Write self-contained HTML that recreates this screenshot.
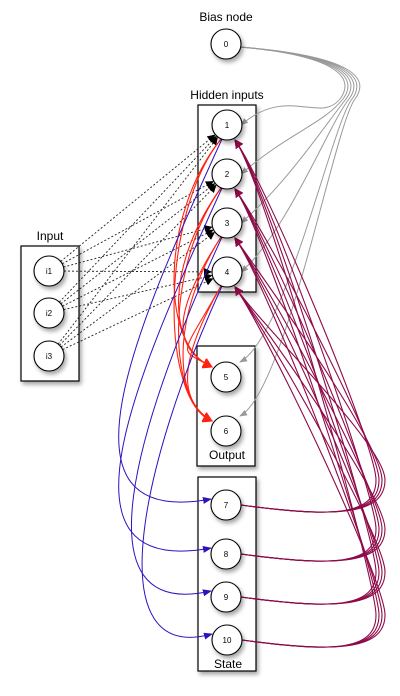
<!DOCTYPE html>
<html><head><meta charset="utf-8"><style>
html,body{margin:0;padding:0;background:#fff}
svg{display:block;font-family:"Liberation Sans",sans-serif}
</style></head><body>
<svg width="400" height="696" viewBox="0 0 400 696" id="g">
<defs>
<filter id="sh" x="-30%" y="-30%" width="160%" height="160%"><feDropShadow dx="2" dy="3" stdDeviation="2" flood-color="#000" flood-opacity="0.35"/></filter>
<marker id="mk" markerWidth="8" markerHeight="8" refX="7" refY="4" orient="auto" markerUnits="userSpaceOnUse"><path d="M0,0 L8,4 L0,8z" fill="#000"/></marker>
<marker id="mg" markerWidth="8" markerHeight="8" refX="7" refY="4" orient="auto" markerUnits="userSpaceOnUse"><path d="M0,1 L8,4 L0,7z" fill="#999"/></marker>
<marker id="mr" markerWidth="10" markerHeight="10" refX="9" refY="5" orient="auto" markerUnits="userSpaceOnUse"><path d="M0,0 L10,5 L0,10z" fill="#f21"/></marker>
<marker id="mb" markerWidth="9" markerHeight="9" refX="8" refY="4.5" orient="auto" markerUnits="userSpaceOnUse"><path d="M0,1 L9,4.5 L0,8z" fill="#3010c0"/></marker>
<marker id="mc" markerWidth="9" markerHeight="9" refX="8" refY="4.5" orient="auto" markerUnits="userSpaceOnUse"><path d="M0,0 L9,4.5 L0,9z" fill="#8e0a48"/></marker>
</defs>
<g>
<rect x="21" y="246" width="58" height="135" fill="#fff" stroke="#000" stroke-width="1.2" filter="url(#sh)"/>
<text x="50" y="240" font-size="12" text-anchor="middle">Input</text></g>
<g>
<rect x="198" y="105" width="58" height="187" fill="#fff" stroke="#000" stroke-width="1.2" filter="url(#sh)"/>
<text x="227" y="99" font-size="12" text-anchor="middle">Hidden inputs</text></g>
<g>
<rect x="197" y="346" width="58" height="120" fill="#fff" stroke="#000" stroke-width="1.2" filter="url(#sh)"/>
<text x="227" y="459" font-size="12" text-anchor="middle">Output</text></g>
<g>
<rect x="198" y="477" width="58" height="194" fill="#fff" stroke="#000" stroke-width="1.2" filter="url(#sh)"/>
<text x="228" y="668" font-size="12" text-anchor="middle">State</text></g>
<text x="226" y="21" font-size="12" text-anchor="middle">Bias node</text>
<g id="edges"></g>
<g id="nodes"></g>
</svg>
<script>
const nodeIds=["0","1","2","3","4","5","6","7","8","9","10","i1","i2","i3"];
const nodeX=[226,227,227,227,227,226,226,226,226,226,227,49,49,49];
const nodeY=[44,125,174,223,272,377,431,505,554,597,640,271,313,356];
const inputEdges=[["i1","1"],["i1","2"],["i1","3"],["i1","4"],["i2","1"],["i2","2"],["i2","3"],["i2","4"],["i3","1"],["i3","2"],["i3","3"],["i3","4"]];
const biasEdges=["1","2","3","4","5","6"];
const outEdges=[["1","5"],["2","5"],["3","5"],["4","5"],["1","6"],["2","6"],["3","6"],["4","6"]];
const stateInEdges=[["1","7"],["2","8"],["3","9"],["4","10"]];
const stateOutEdges=[["7","1"],["7","2"],["7","3"],["7","4"],["8","1"],["8","2"],["8","3"],["8","4"],["9","1"],["9","2"],["9","3"],["9","4"],["10","1"],["10","2"],["10","3"],["10","4"]];
const NS="http://www.w3.org/2000/svg";
const eg=document.getElementById("edges"),ng=document.getElementById("nodes");
const P=id=>{const i=nodeIds.indexOf(id);return [nodeX[i],nodeY[i]];};
function path(d,col,w,mk,dash,name){const p=document.createElementNS(NS,"path");p.setAttribute("d",d);p.setAttribute("fill","none");p.setAttribute("stroke",col);p.setAttribute("stroke-width",w);if(dash)p.setAttribute("stroke-dasharray",dash);p.setAttribute("marker-end","url(#"+mk+")");


eg.appendChild(p);}
inputEdges.forEach(([a,b],k)=>{const [x1,y1]=P(a),[x2,y2]=P(b);const dy=y2-y1,dx=x2-x1,L=Math.hypot(dx,dy);
path(`M${x1+15*dx/L},${y1+15*dy/L} L${x2-16*dx/L},${y2-16*dy/L}`,"#222",0.9,"mk","2,2","input-edge-"+a+"-"+b);});
biasEdges.forEach((b,k)=>{const [x1,y1]=P("0"),[x2,y2]=P(b);const cx=340+k*3;
path(`M${x1+14},${y1+3} C${cx},${y1+12} ${cx+15},${y1+35} ${cx},${y1+55} C${cx-20},${y1+80} ${x2+60},${y2-40} ${x2+14},${y2-(b>"4"?15:0)}`,"#999",1,"mg",null,"bias-edge-"+b);});
outEdges.forEach(([a,b],k)=>{const [x1,y1]=P(a),[x2,y2]=P(b);const lx=160+k%4*6;
path(`M${x1-6},${y1+14} C${lx},${y1+90} ${lx},${y2-30} ${x2-14},${y2-10}`,"#f21",1.1,"mr",null,"output-edge-"+a+"-"+b);});
stateInEdges.forEach(([a,b],k)=>{const [x1,y1]=P(a),[x2,y2]=P(b);const lx=[45,45,75,100][k];
path(`M${x1-5},${y1+14} C${x1-90},${y1+200} ${lx},${y2+25} ${x2-15},${y2-6}`,"#3010c0",1,"mb",null,"state-in-edge-"+a+"-"+b);});
stateOutEdges.forEach(([a,b],k)=>{const [x1,y1]=P(a),[x2,y2]=P(b);const rx=376+(k%4)*3;
path(`M${x1+15},${y1} C${330},${y1+12} ${rx},${y1+12} ${rx},${y1-25} C${rx},${y1-60} ${x2+40},${y2+60} ${x2+8},${y2+15}`,"#8e0a48",1.1,"mc",null,"state-out-edge-"+a+"-"+b);});
nodeIds.forEach((id,i)=>{const g=document.createElementNS(NS,"g");


const c=document.createElementNS(NS,"circle");c.setAttribute("cx",nodeX[i]);c.setAttribute("cy",nodeY[i]);c.setAttribute("r",15);c.setAttribute("fill","#fff");c.setAttribute("stroke","#000");c.setAttribute("stroke-width","1.1");c.setAttribute("filter","url(#sh)");
const t=document.createElementNS(NS,"text");t.setAttribute("x",nodeX[i]);t.setAttribute("y",nodeY[i]+3);t.setAttribute("font-size","8");t.setAttribute("text-anchor","middle");t.textContent=id;
g.appendChild(c);g.appendChild(t);ng.appendChild(g);});
</script>
</body></html>
